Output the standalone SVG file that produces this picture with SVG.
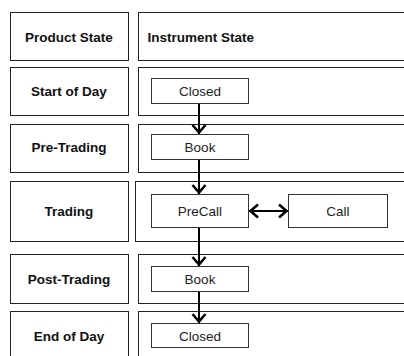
<svg xmlns="http://www.w3.org/2000/svg" width="404" height="356" viewBox="0 0 404 356">
<style>
.row{fill:#fff;stroke:#222;stroke-width:1}
.node{fill:#fff;stroke:#333;stroke-width:1}
.lbl{font-family:"Liberation Sans",Arial,sans-serif;font-size:13.5px;font-weight:bold;fill:#111}
.ntx{font-family:"Liberation Sans",Arial,sans-serif;font-size:13.5px;fill:#222;text-anchor:middle}
.c{text-anchor:middle}
.conn{stroke:#000;stroke-width:2;fill:none}
</style>
<defs>
<marker id="ah" markerUnits="userSpaceOnUse" markerWidth="20" markerHeight="20" refX="1.5" refY="0" orient="auto-start-reverse" viewBox="-10 -10 20 20" overflow="visible">
<path d="M-7.5,-6.5 L0,0 L-7.5,6.5" fill="none" stroke="#000" stroke-width="2.6"/>
</marker>
</defs>
<rect width="404" height="356" fill="#fff"/>
<g id="header">
<rect class="row" x="10.5" y="12.5" width="118" height="48"/>
<rect class="row" x="138.5" y="12.5" width="300" height="48"/>
<text class="lbl c" x="69" y="41.5">Product State</text>
<text class="lbl" x="147.5" y="41.5">Instrument State</text>
</g>
<g id="row-start">
<rect class="row" x="10.5" y="67.5" width="118" height="48"/>
<rect class="row" x="138.5" y="67.5" width="300" height="48"/>
<text class="lbl c" x="69" y="95.5">Start of Day</text>
</g>
<g id="row-pre">
<rect class="row" x="10.5" y="124.5" width="118" height="48"/>
<rect class="row" x="138.5" y="124.5" width="300" height="48"/>
<text class="lbl c" x="69" y="152">Pre-Trading</text>
</g>
<g id="row-trading">
<rect class="row" x="10.5" y="181.5" width="118" height="60"/>
<rect class="row" x="135.5" y="181.5" width="300" height="60"/>
<text class="lbl c" x="69" y="216">Trading</text>
</g>
<g id="row-post">
<rect class="row" x="10.5" y="254.5" width="118" height="49"/>
<rect class="row" x="138.5" y="254.5" width="300" height="49"/>
<text class="lbl c" x="69" y="284">Post-Trading</text>
</g>
<g id="row-end">
<rect class="row" x="10.5" y="311.5" width="118" height="60"/>
<rect class="row" x="138.5" y="311.5" width="300" height="60"/>
<text class="lbl c" x="69" y="341">End of Day</text>
</g>
<g id="closed1">
<rect class="node" x="151.5" y="78.5" width="97" height="25"/>
<text class="ntx" x="200" y="95.5">Closed</text>
</g>
<g id="book1">
<rect class="node" x="151.5" y="134.5" width="97" height="25"/>
<text class="ntx" x="200" y="152">Book</text>
</g>
<g id="precall">
<rect class="node" x="151.5" y="194.5" width="97" height="33"/>
<text class="ntx" x="200" y="215.5">PreCall</text>
</g>
<g id="call">
<rect class="node" x="288.5" y="194.5" width="99" height="33"/>
<text class="ntx" x="338" y="215.5">Call</text>
</g>
<g id="book2">
<rect class="node" x="151.5" y="266.5" width="97" height="25"/>
<text class="ntx" x="200" y="284">Book</text>
</g>
<g id="closed2">
<rect class="node" x="151.5" y="323.5" width="97" height="24"/>
<text class="ntx" x="200" y="341">Closed</text>
</g>
<g id="connectors">
<line class="conn" x1="199" y1="104" x2="199" y2="134" marker-end="url(#ah)"/>
<line class="conn" x1="199" y1="160" x2="199" y2="194" marker-end="url(#ah)"/>
<line class="conn" x1="199" y1="228" x2="199" y2="266" marker-end="url(#ah)"/>
<line class="conn" x1="199" y1="292" x2="199" y2="323" marker-end="url(#ah)"/>
<line class="conn" x1="249" y1="211" x2="288" y2="211" marker-start="url(#ah)" marker-end="url(#ah)"/>
</g>
</svg>
